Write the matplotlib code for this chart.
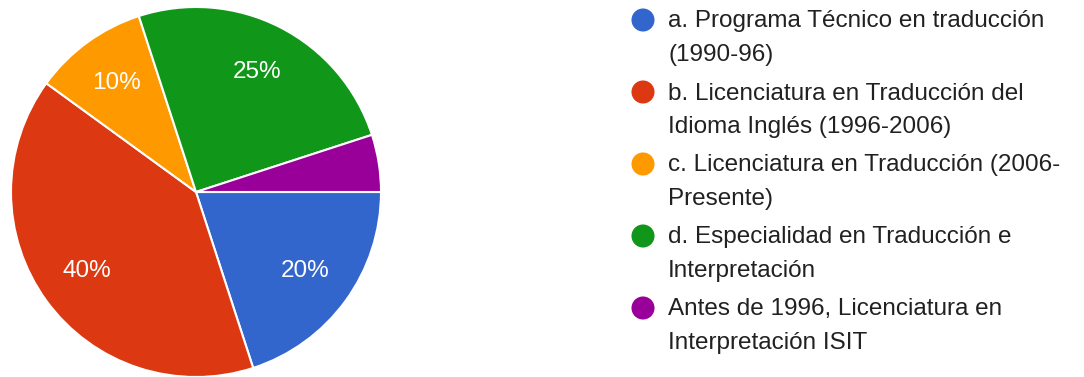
import matplotlib
matplotlib.use("Agg")
import matplotlib.pyplot as plt

# datos del gráfico
labels = [
    "a. Programa Técnico en traducción\n(1990-96)",
    "b. Licenciatura en Traducción del\nIdioma Inglés (1996-2006)",
    "c. Licenciatura en Traducción (2006-\nPresente)",
    "d. Especialidad en Traducción e\nInterpretación",
    "Antes de 1996, Licenciatura en\nInterpretación ISIT",
]
values = [20, 40, 10, 25, 5]
colors = ["#3366cc", "#dc3912", "#ff9900", "#109618", "#990099"]

plt.rcParams["font.family"] = ["Liberation Sans", "DejaVu Sans"]

W, H = 1084, 377
fig = plt.figure(figsize=(W / 100, H / 100), dpi=100)
fig.patch.set_facecolor("white")

# === PIE ===
ax = fig.add_axes([11 / W, 0, 370 / W, 370 / H])
wedges, texts, autotexts = ax.pie(
    values, colors=colors, startangle=0, counterclock=False, radius=1,
    autopct=lambda p: f"{p:.0f}%" if p >= 8 else "", pctdistance=0.73,
    wedgeprops=dict(edgecolor="white", linewidth=1.5),
    textprops=dict(color="white", fontsize=17.5))
ax.set_xlim(-1.0, 1.0)
ax.set_ylim(-1.0, 1.0)
ax.set_aspect("equal")

# === LEYENDA (en pixeles) ===
lax = fig.add_axes([0, 0, 1, 1])
lax.set_xlim(0, W)
lax.set_ylim(H, 0)
lax.axis("off")
step = 72
for i, (lab, col) in enumerate(zip(labels, colors)):
    y0 = 20 + step * i
    lax.scatter([643], [y0], s=16.6 ** 2, color=col, edgecolors="none")
    lax.text(668, y0 - 9.5, lab, fontsize=17.5, color="#212121",
             va="top", ha="left", linespacing=1.66)

fig.savefig("out.png", dpi=100, facecolor="white")
